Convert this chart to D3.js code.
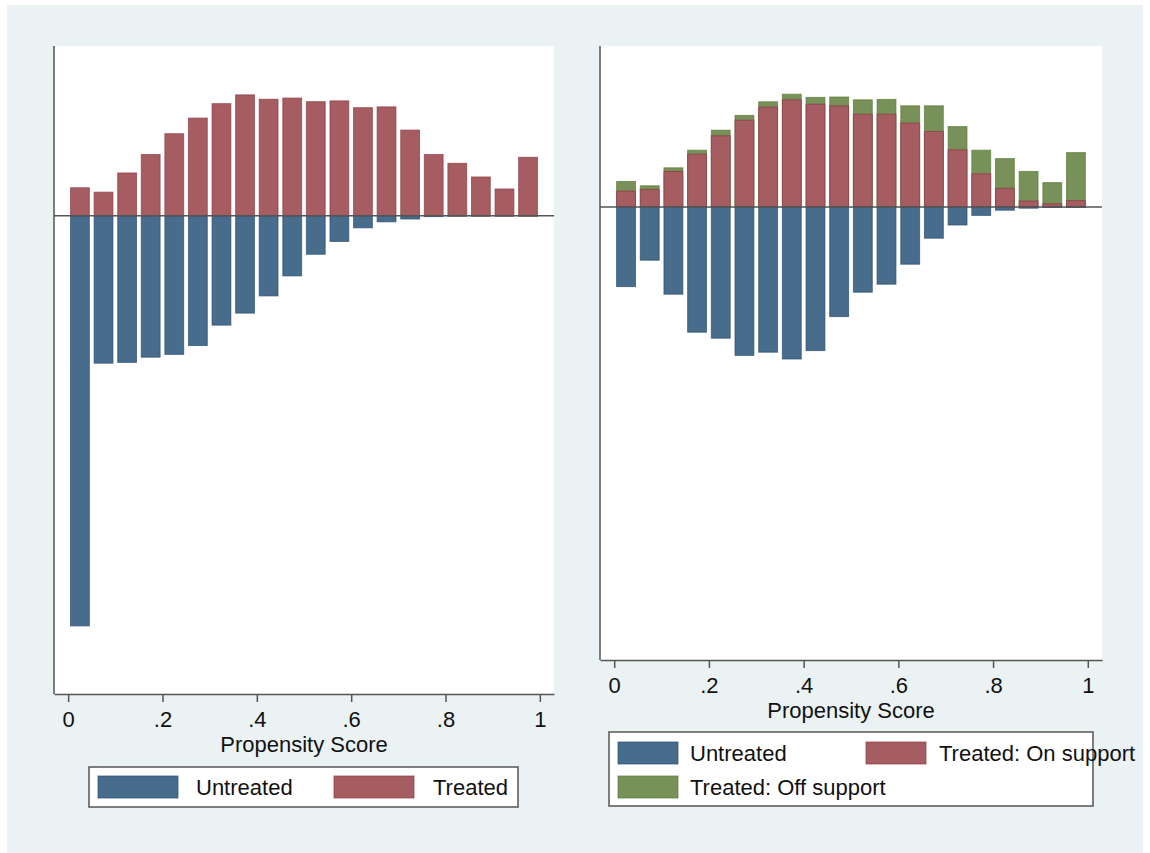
<!DOCTYPE html>
<html>
<head>
<meta charset="utf-8">
<script src="https://cdn.jsdelivr.net/npm/d3@7"></script>
<style>
  body { margin: 0; background: #ffffff; }
  text { font-family: "Liberation Sans", Arial, sans-serif; fill: #111; }
</style>
</head>
<body>
<svg id="G1"></svg>
<script>
//* Propensity score histograms (two panels) *//

const BIN_MIDS = [0.025, 0.075, 0.125, 0.175, 0.225, 0.275, 0.325, 0.375, 0.425, 0.475,
                  0.525, 0.575, 0.625, 0.675, 0.725, 0.775, 0.825, 0.875, 0.925, 0.975];
const X_TICKS = [0, 0.2, 0.4, 0.6, 0.8, 1];
const X_TICK_LABELS = ["0", ".2", ".4", ".6", ".8", "1"];
const X_TITLE = "Propensity Score";

// left panel: densities (treated shown up, untreated shown down)
const LEFT_TREATED = [0.70, 0.59, 1.07, 1.53, 2.05, 2.44, 2.80, 3.02, 2.91, 2.94,
                      2.85, 2.87, 2.70, 2.72, 2.14, 1.53, 1.31, 0.97, 0.67, 1.46];
const LEFT_UNTREATED = [10.24, 3.68, 3.66, 3.53, 3.46, 3.24, 2.73, 2.43, 2.00, 1.50,
                        0.96, 0.64, 0.30, 0.15, 0.08, 0.02, 0.01, 0.01, 0.01, 0.01];

// right panel: treated split by common support
const RIGHT_ON_SUPPORT = [0.40, 0.44, 0.89, 1.32, 1.78, 2.17, 2.50, 2.68, 2.57, 2.53,
                          2.32, 2.32, 2.10, 1.89, 1.43, 0.83, 0.47, 0.15, 0.08, 0.16];
const RIGHT_OFF_SUPPORT = [0.24, 0.09, 0.09, 0.10, 0.14, 0.12, 0.13, 0.14, 0.17, 0.22,
                           0.36, 0.37, 0.43, 0.64, 0.58, 0.59, 0.74, 0.74, 0.53, 1.20];
const RIGHT_UNTREATED = [1.99, 1.33, 2.18, 3.13, 3.28, 3.71, 3.63, 3.80, 3.59, 2.74,
                         2.13, 1.93, 1.43, 0.78, 0.45, 0.21, 0.08, 0.03, 0.01, 0.01];

const LEFT_LEGEND = ["Untreated", "Treated"];
const RIGHT_LEGEND = ["Untreated", "Treated: On support", "Treated: Off support"];

const COLORS = {
  untreated: { fill: "#486c8c", stroke: "#2a4d6e" },
  treated:   { fill: "#a65d62", stroke: "#8c3a41" },
  off:       { fill: "#779159", stroke: "#5b7a3a" }
};
const BAR_WIDTH = 0.042;
const WIDTH = 1150;
const HEIGHT = 853;

const svg = d3.select('#G1')
  .attr('width', WIDTH)
  .attr('height', HEIGHT);

// graph region background
svg.append('rect')
  .attr('x', 7).attr('y', 5)
  .attr('width', 1136).attr('height', 848)
  .attr('fill', '#eaf2f3');

function drawPanel(p) {
  const g = svg.append('g');

  const xScale = d3.scaleLinear().domain([-0.03, 1.03]).range([p.left, p.right]);
  const yScale = d3.scaleLinear().domain(p.yDomain).range([p.bottom, p.top]);

  // plot region
  g.append('rect')
    .attr('x', p.left).attr('y', p.top)
    .attr('width', p.right - p.left).attr('height', p.bottom - p.top)
    .attr('fill', '#ffffff');

  const bw = xScale(BAR_WIDTH) - xScale(0);

  //Draw Bars, one layer per series
  p.layers.forEach(layer => {
    g.selectAll(null)
      .data(BIN_MIDS)
      .enter()
      .append('rect')
      .attr('x', (d) => xScale(d - BAR_WIDTH / 2) + 0.5)
      .attr('width', bw - 1)
      .attr('y', (d, i) => yScale(Math.max(layer.value(i), 0)))
      .attr('height', (d, i) => Math.abs(yScale(0) - yScale(layer.value(i))))
      .attr('fill', layer.color.fill)
      .attr('stroke', layer.color.stroke)
      .attr('stroke-opacity', 0.7)
      .attr('stroke-width', 1);
  });

  // zero line
  g.append('line')
    .attr('x1', p.left).attr('x2', p.right)
    .attr('y1', yScale(0)).attr('y2', yScale(0))
    .attr('stroke', '#555').attr('stroke-width', 1.5);

  // y axis line only
  g.append('line')
    .attr('x1', p.left).attr('x2', p.left)
    .attr('y1', p.top).attr('y2', p.bottom)
    .attr('stroke', '#555').attr('stroke-width', 1.5);

  //DRAW X-AXIS
  const xAxis = g.append('g')
    .attr('transform', `translate(0, ${p.bottom})`)
    .call(d3.axisBottom(xScale)
      .tickValues(X_TICKS)
      .tickFormat((d, i) => X_TICK_LABELS[i])
      .tickSize(8)
      .tickSizeOuter(0)
      .tickPadding(9));
  xAxis.select('.domain').attr('stroke', '#555').attr('stroke-width', 1.5);
  xAxis.selectAll('.tick line').attr('stroke', '#555').attr('stroke-width', 1.5);
  xAxis.selectAll('.tick text')
    .attr('font-size', '22px')
    .attr('font-family', '"Liberation Sans", Arial, sans-serif')
    .attr('fill', '#111');

  g.append('text')
    .attr('x', (p.left + p.right) / 2)
    .attr('y', p.bottom + 58)
    .attr('text-anchor', 'middle')
    .attr('font-size', '22px')
    .text(X_TITLE);

  //Legend
  const lg = p.legend;
  g.append('rect')
    .attr('x', lg.x).attr('y', lg.y)
    .attr('width', lg.w).attr('height', lg.h)
    .attr('fill', '#ffffff')
    .attr('stroke', '#555').attr('stroke-width', 1.5);
  lg.items.forEach(it => {
    g.append('rect')
      .attr('x', it.x).attr('y', it.y)
      .attr('width', lg.keyW).attr('height', 22)
      .attr('fill', it.color.fill)
      .attr('stroke', it.color.stroke).attr('stroke-opacity', 0.7);
    g.append('text')
      .attr('x', it.x + it.gap).attr('y', it.y + 19)
      .attr('font-size', '22px')
      .text(it.label);
  });
}

// left panel
drawPanel({
  left: 54, right: 554, top: 46, bottom: 694,
  yDomain: [-11.94, 4.24],
  layers: [
    { value: i => LEFT_TREATED[i], color: COLORS.treated },
    { value: i => -LEFT_UNTREATED[i], color: COLORS.untreated }
  ],
  legend: {
    x: 89, y: 767, w: 429, h: 40, keyW: 80,
    items: [
      { x: 98, y: 776, gap: 98, label: LEFT_LEGEND[0], color: COLORS.untreated },
      { x: 334, y: 776, gap: 99, label: LEFT_LEGEND[1], color: COLORS.treated }
    ]
  }
});

// right panel
drawPanel({
  left: 600, right: 1102, top: 46, bottom: 660,
  yDomain: [-11.325, 4.025],
  layers: [
    { value: i => RIGHT_ON_SUPPORT[i] + RIGHT_OFF_SUPPORT[i], color: COLORS.off },
    { value: i => RIGHT_ON_SUPPORT[i], color: COLORS.treated },
    { value: i => -RIGHT_UNTREATED[i], color: COLORS.untreated }
  ],
  legend: {
    x: 609, y: 732, w: 484, h: 74, keyW: 60,
    items: [
      { x: 618, y: 742, gap: 72, label: RIGHT_LEGEND[0], color: COLORS.untreated },
      { x: 866, y: 742, gap: 73, label: RIGHT_LEGEND[1], color: COLORS.treated },
      { x: 618, y: 776, gap: 72, label: RIGHT_LEGEND[2], color: COLORS.off }
    ]
  }
});
</script>
</body>
</html>
